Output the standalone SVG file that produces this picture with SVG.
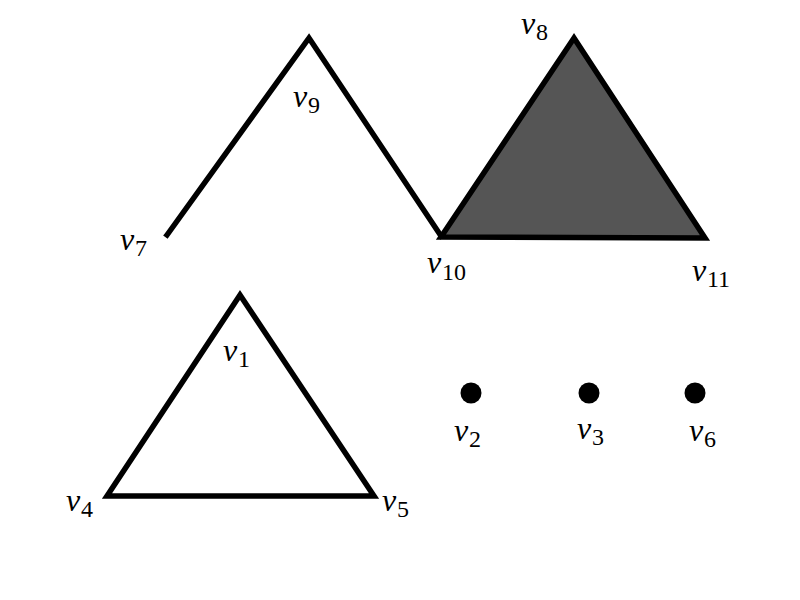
<svg xmlns="http://www.w3.org/2000/svg" width="800" height="600" viewBox="0 0 800 600">
<defs>
<circle id="dot" r="10.5" fill="#000"/>
</defs>
<rect width="800" height="600" fill="#fff"/>
<g id="connectors">
<polyline points="167,235 309,38 441,236" fill="none" stroke="#000" stroke-width="5.5" stroke-linecap="square"/>
</g>
<g id="face-v8-v10-v11">
<polygon points="574,38 441,237 705,238" fill="#555555" stroke="#000" stroke-width="5.5"/>
</g>
<g id="face-v1-v4-v5">
<polygon points="240,295 107,496 374,496" fill="none" stroke="#000" stroke-width="5.5"/>
</g>
<g font-family="'Liberation Serif'" fill="#000">
<g id="v7"><text x="120" y="250" font-style="italic" font-size="32">v</text><text x="135" y="256" font-size="24">7</text></g>
<g id="v9"><text x="293" y="107" font-style="italic" font-size="32">v</text><text x="308" y="113" font-size="24">9</text></g>
<g id="v10"><text x="427" y="273" font-style="italic" font-size="32">v</text><text x="442" y="280" font-size="24">10</text></g>
<g id="v8"><text x="521" y="34" font-style="italic" font-size="32">v</text><text x="536" y="40" font-size="24">8</text></g>
<g id="v11"><text x="692" y="281" font-style="italic" font-size="32">v</text><text x="707" y="287" font-size="24">11</text></g>
<g id="v1"><text x="223" y="361" font-style="italic" font-size="32">v</text><text x="238" y="367" font-size="24">1</text></g>
<g id="v4"><text x="66" y="511" font-style="italic" font-size="32">v</text><text x="81" y="517" font-size="24">4</text></g>
<g id="v5"><text x="382" y="511" font-style="italic" font-size="32">v</text><text x="397" y="517" font-size="24">5</text></g>
<g id="v2"><use href="#dot" x="471" y="393"/><text x="454" y="441" font-style="italic" font-size="32">v</text><text x="469" y="447" font-size="24">2</text></g>
<g id="v3"><use href="#dot" x="589" y="393"/><text x="577" y="439" font-style="italic" font-size="32">v</text><text x="592" y="445" font-size="24">3</text></g>
<g id="v6"><use href="#dot" x="695" y="393"/><text x="689" y="441" font-style="italic" font-size="32">v</text><text x="704" y="447" font-size="24">6</text></g>
</g>
</svg>
